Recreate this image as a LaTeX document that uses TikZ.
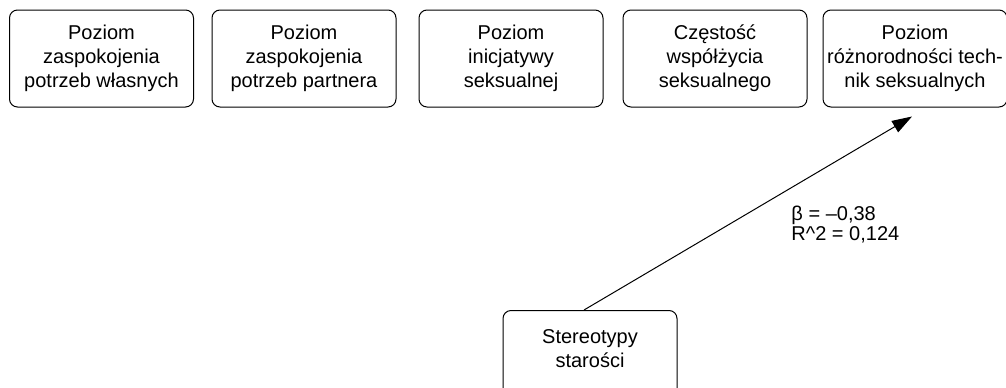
\documentclass[tikz,border=0pt]{standalone}
\usepackage{fontspec}
\setmainfont{Liberation Sans}
\usetikzlibrary{arrows.meta, positioning, calc}

\begin{document}
\begin{tikzpicture}[x=0.5pt, y=0.5pt]
    \tikzset{VarBox/.style = {draw, rounded corners=4pt, line width=0.5pt, align=center, minimum width=92pt, minimum height=48.5pt, inner sep=2pt, font=\fontsize{10}{12}\selectfont}}
    \tikzset{EdgeStyle/.style = {line width=0.5pt, -{Triangle[length=10pt, width=6.5pt]}}}
    \useasboundingbox (0, 0) rectangle (1006, 387);
    \node[VarBox] (pw) at (101.5, 328.5) {Poziom\\zaspokojenia\\potrzeb własnych};
    \node[VarBox] (pp) at (304, 328.5) {Poziom\\zaspokojenia\\potrzeb partnera};
    \node[VarBox] (is) at (511, 328.5) {Poziom\\inicjatywy\\seksualnej};
    \node[VarBox] (cw) at (715, 328.5) {Częstość\\współżycia\\seksualnego};
    \node[VarBox] (rt) at (915, 328.5) {Poziom\\różnorodności tech-\\nik seksualnych};
    \node[VarBox, minimum width=87pt, text height=28.5pt, text depth=20pt, inner ysep=0pt, anchor=north] (st) at (590, 77) {Stereotypy\\starości};
    \draw[EdgeStyle] ($(st.north)+(-6,0)$) -- ($(rt.south)+(-3,-9)$) node[pos=0.44, anchor=west, xshift=28pt, align=left, font=\fontsize{10}{10}\selectfont] (beta) {β = –0,38\\R\textasciicircum 2 = 0,124};
\end{tikzpicture}
\end{document}
